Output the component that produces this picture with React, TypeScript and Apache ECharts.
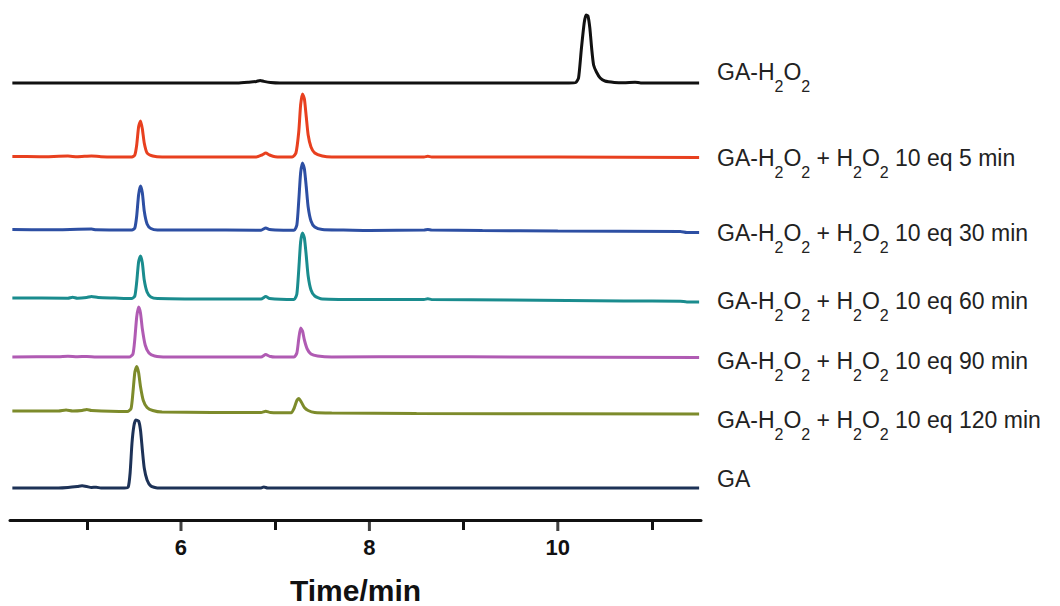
import React, { useEffect, useRef } from "react";
import * as echarts from "echarts";

// Retention time (min) and detector response (arbitrary units, baseline ~0) for each trace
const gaH2O2: number[][] = [
  [4.21, 0], [6.0, 0], [6.6, 0], [6.72, 0.8], [6.8, 1.6], [6.84, 2.6], [6.88, 1.6], [6.95, 0.5], [7.05, 0],
  [10.12, 0], [10.19, 0.5], [10.22, 5], [10.25, 34], [10.28, 60], [10.3, 68], [10.32, 67], [10.34, 55],
  [10.36, 34], [10.38, 18], [10.41, 11], [10.45, 5], [10.5, 2], [10.6, 0.6], [10.7, 0.2], [10.82, 0.8],
  [10.88, 0], [11.5, 0],
];
const min5: number[][] = [
  [4.21, 0.5], [4.5, 0.3], [4.8, 0.9], [4.9, 0.3], [5.05, 1.1], [5.15, 0.3], [5.48, 0], [5.51, 2],
  [5.53, 12], [5.55, 30], [5.57, 36], [5.59, 28], [5.61, 14], [5.64, 4], [5.7, 1], [5.8, 0], [6.8, 0],
  [6.86, 2], [6.9, 4], [6.94, 2], [7.0, 0.3], [7.18, 0], [7.22, 4], [7.25, 25], [7.27, 52], [7.29, 63],
  [7.31, 58], [7.33, 40], [7.35, 22], [7.38, 10], [7.42, 4], [7.5, 1], [7.6, 0], [8.58, 0], [8.62, 0.8],
  [8.66, 0], [10.0, 0], [11.5, -0.5],
];
const min30: number[][] = [
  [4.21, 1.5], [4.6, 1.2], [5.05, 2], [5.1, 1.2], [5.48, 1], [5.51, 3], [5.53, 15], [5.55, 36], [5.57, 45],
  [5.59, 38], [5.61, 20], [5.64, 7], [5.68, 2.5], [5.75, 1], [6.1, 1], [6.85, 0.8], [6.9, 3], [6.94, 1.5],
  [7.0, 1], [7.2, 0.8], [7.23, 6], [7.25, 30], [7.27, 58], [7.29, 68], [7.31, 62], [7.33, 44], [7.35, 24],
  [7.38, 10], [7.42, 4], [7.5, 1.5], [7.7, 1], [8.0, 0.5], [8.58, 1], [8.62, 1.6], [8.66, 1], [9.2, 0.5],
  [10.0, 0], [11.3, -0.5], [11.37, -1.5], [11.5, -1.5],
];
const min60: number[][] = [
  [4.21, 2], [4.8, 1.8], [4.85, 2.8], [4.9, 1.8], [5.0, 2.5], [5.05, 3.5], [5.12, 2.5], [5.3, 2], [5.48, 1.5],
  [5.51, 4], [5.53, 18], [5.55, 38], [5.57, 44], [5.59, 37], [5.61, 20], [5.64, 8], [5.68, 3], [5.75, 1.5],
  [6.5, 1], [6.85, 1], [6.9, 3.5], [6.94, 1.5], [7.2, 0.5], [7.23, 6], [7.25, 30], [7.27, 58], [7.29, 67],
  [7.31, 62], [7.33, 44], [7.35, 24], [7.38, 10], [7.42, 4], [7.5, 1], [8.0, 0.5], [8.58, 0.5], [8.62, 1.2],
  [8.66, 0.5], [9.5, 0], [10.7, -1], [11.3, -1.2], [11.37, -2], [11.5, -2],
];
const min90: number[][] = [
  [4.21, 0], [4.7, 0.3], [4.8, 0.8], [4.9, 0.3], [5.0, 0.6], [5.1, 0], [5.45, 0], [5.49, 3], [5.51, 18],
  [5.53, 40], [5.55, 50], [5.57, 44], [5.59, 28], [5.62, 12], [5.66, 4], [5.72, 1], [5.85, 0], [6.85, 0],
  [6.9, 2.5], [6.94, 0.8], [7.0, 0], [7.2, 0], [7.23, 4], [7.25, 18], [7.27, 29], [7.29, 26], [7.31, 17],
  [7.34, 8], [7.38, 3], [7.45, 1], [7.6, 0], [8.6, 0.3], [9.5, 0], [11.5, -0.5],
];
const min120: number[][] = [
  [4.21, 1.5], [4.7, 1.5], [4.78, 2.5], [4.85, 1.5], [4.95, 2], [5.0, 3], [5.05, 2], [5.43, 1], [5.47, 4],
  [5.49, 20], [5.51, 40], [5.53, 46], [5.55, 40], [5.57, 26], [5.6, 12], [5.64, 5], [5.7, 2], [5.8, 0.5],
  [6.85, 0], [6.9, 1.2], [6.95, 0], [7.17, -0.3], [7.2, 4], [7.23, 12], [7.25, 14], [7.28, 10], [7.31, 5],
  [7.35, 2], [7.42, 0], [7.6, -0.5], [8.5, -1], [11.5, -1.5],
];
const gaOnly: number[][] = [
  [4.21, 0], [4.7, 0], [4.8, 0.5], [4.9, 1.5], [4.95, 2.2], [5.0, 1.5], [5.05, 0.5], [5.1, 0.8], [5.15, 0],
  [5.4, 0], [5.44, 1], [5.46, 15], [5.48, 45], [5.5, 62], [5.52, 68], [5.55, 67], [5.57, 58], [5.59, 38],
  [5.61, 20], [5.64, 8], [5.68, 2], [5.75, 0], [6.85, 0], [6.88, 1], [6.92, 0], [11.5, 0],
];

const traces = [gaH2O2, min5, min30, min60, min90, min120, gaOnly];
const traceOffsets = [437, 363, 289, 220, 163, 107.5, 32];
const traceNames = [
  "GA-H2O2",
  "GA-H2O2 + H2O2 10 eq 5 min",
  "GA-H2O2 + H2O2 10 eq 30 min",
  "GA-H2O2 + H2O2 10 eq 60 min",
  "GA-H2O2 + H2O2 10 eq 90 min",
  "GA-H2O2 + H2O2 10 eq 120 min",
  "GA",
];
const traceColors = ["#111111", "#e8401f", "#2d4fa3", "#1a8c8e", "#b05bb3", "#7d8b2b", "#1d3257"];
const majorTicks = [6, 8, 10];
const minorTicks = [5, 7, 9, 11];
const labelCenters = [71.5, 157.5, 232, 300, 360, 419.5, 478];

const X_MIN = 4.185;
const X_MAX = 11.52;

function toRich(name: string): string {
  const parts: string[] = [];
  let buf = "";
  for (let i = 0; i < name.length; i++) {
    const c = name[i];
    const prev = name[i - 1];
    if (c === "2" && (prev === "H" || prev === "O")) {
      if (buf) parts.push(`{m|${buf}}`);
      buf = "";
      parts.push(`{s|2}`);
    } else {
      buf += c;
    }
  }
  if (buf) parts.push(`{m|${buf}}`);
  return parts.join("");
}

export default function App() {
  const ref = useRef<HTMLDivElement>(null);
  useEffect(() => {
    document.body.style.margin = "0";
    if (!ref.current) return;
    const chart = echarts.init(ref.current, undefined, { renderer: "svg" });
    const font = "'Liberation Sans', Arial, sans-serif";

    const series: any[] = traces.map((tr, i) => ({
      type: "line",
      name: traceNames[i],
      xAxisIndex: 0,
      yAxisIndex: 0,
      data: tr.map(([t, v]) => [t, v + traceOffsets[i]]),
      showSymbol: false,
      smooth: 0.2,
      lineStyle: { color: traceColors[i], width: 3 },
      itemStyle: { color: traceColors[i] },
      z: 3,
    }));
    // major tick marks, placed through the tick strip's own x scale
    series.push({
      type: "scatter",
      xAxisIndex: 1,
      yAxisIndex: 1,
      data: majorTicks.map((v) => [v, 0.5]),
      symbol: "rect",
      symbolSize: [3, 11],
      itemStyle: { color: "#111" },
      silent: true,
      z: 10,
    });

    const graphics = traceNames.map((n, i) => ({
      type: "text" as const,
      left: 717,
      top: labelCenters[i] - 11,
      style: {
        text: toRich(n),
        fill: "#222",
        font: `23px ${font}`,
        rich: {
          m: { fontSize: 23, lineHeight: 24, verticalAlign: "top", fontFamily: font, fill: "#222" },
          s: { fontSize: 16, lineHeight: 34, verticalAlign: "bottom", fontFamily: font, fill: "#222" },
        },
      },
    }));
    const tickStyle = { color: "#111", width: 3 };
    const common = { outerBoundsMode: "none", containLabel: false, left: 10, right: 359 };
    chart.setOption({
      animation: false,
      backgroundColor: "#fff",
      grid: [
        { ...common, top: 10, bottom: 86 },
        { ...common, top: 520, bottom: 75 },
      ],
      xAxis: [
        {
          gridIndex: 0,
          type: "value",
          min: X_MIN,
          max: X_MAX,
          name: "Time/min",
          nameLocation: "middle",
          nameGap: 55,
          nameTextStyle: { fontSize: 30, fontWeight: "bold", color: "#111", fontFamily: font },
          axisLine: { show: true, lineStyle: { color: "#111", width: 3 } },
          axisTick: { show: true, customValues: minorTicks, length: 10, lineStyle: tickStyle },
          axisLabel: {
            customValues: majorTicks,
            margin: 16,
            fontSize: 22,
            fontWeight: "bold",
            color: "#111",
            fontFamily: font,
          },
          splitLine: { show: false },
        },
        {
          gridIndex: 1,
          type: "value",
          min: X_MIN,
          max: X_MAX,
          show: false,
          splitLine: { show: false },
        },
      ],
      yAxis: [
        { gridIndex: 0, type: "value", min: 0, max: 510, show: false, splitLine: { show: false } },
        { gridIndex: 1, type: "value", min: 0, max: 1, show: false, splitLine: { show: false } },
      ],
      series,
      graphic: graphics,
    });
    return () => chart.dispose();
  }, []);
  return <div ref={ref} style={{ width: 1060, height: 606 }} />;
}
